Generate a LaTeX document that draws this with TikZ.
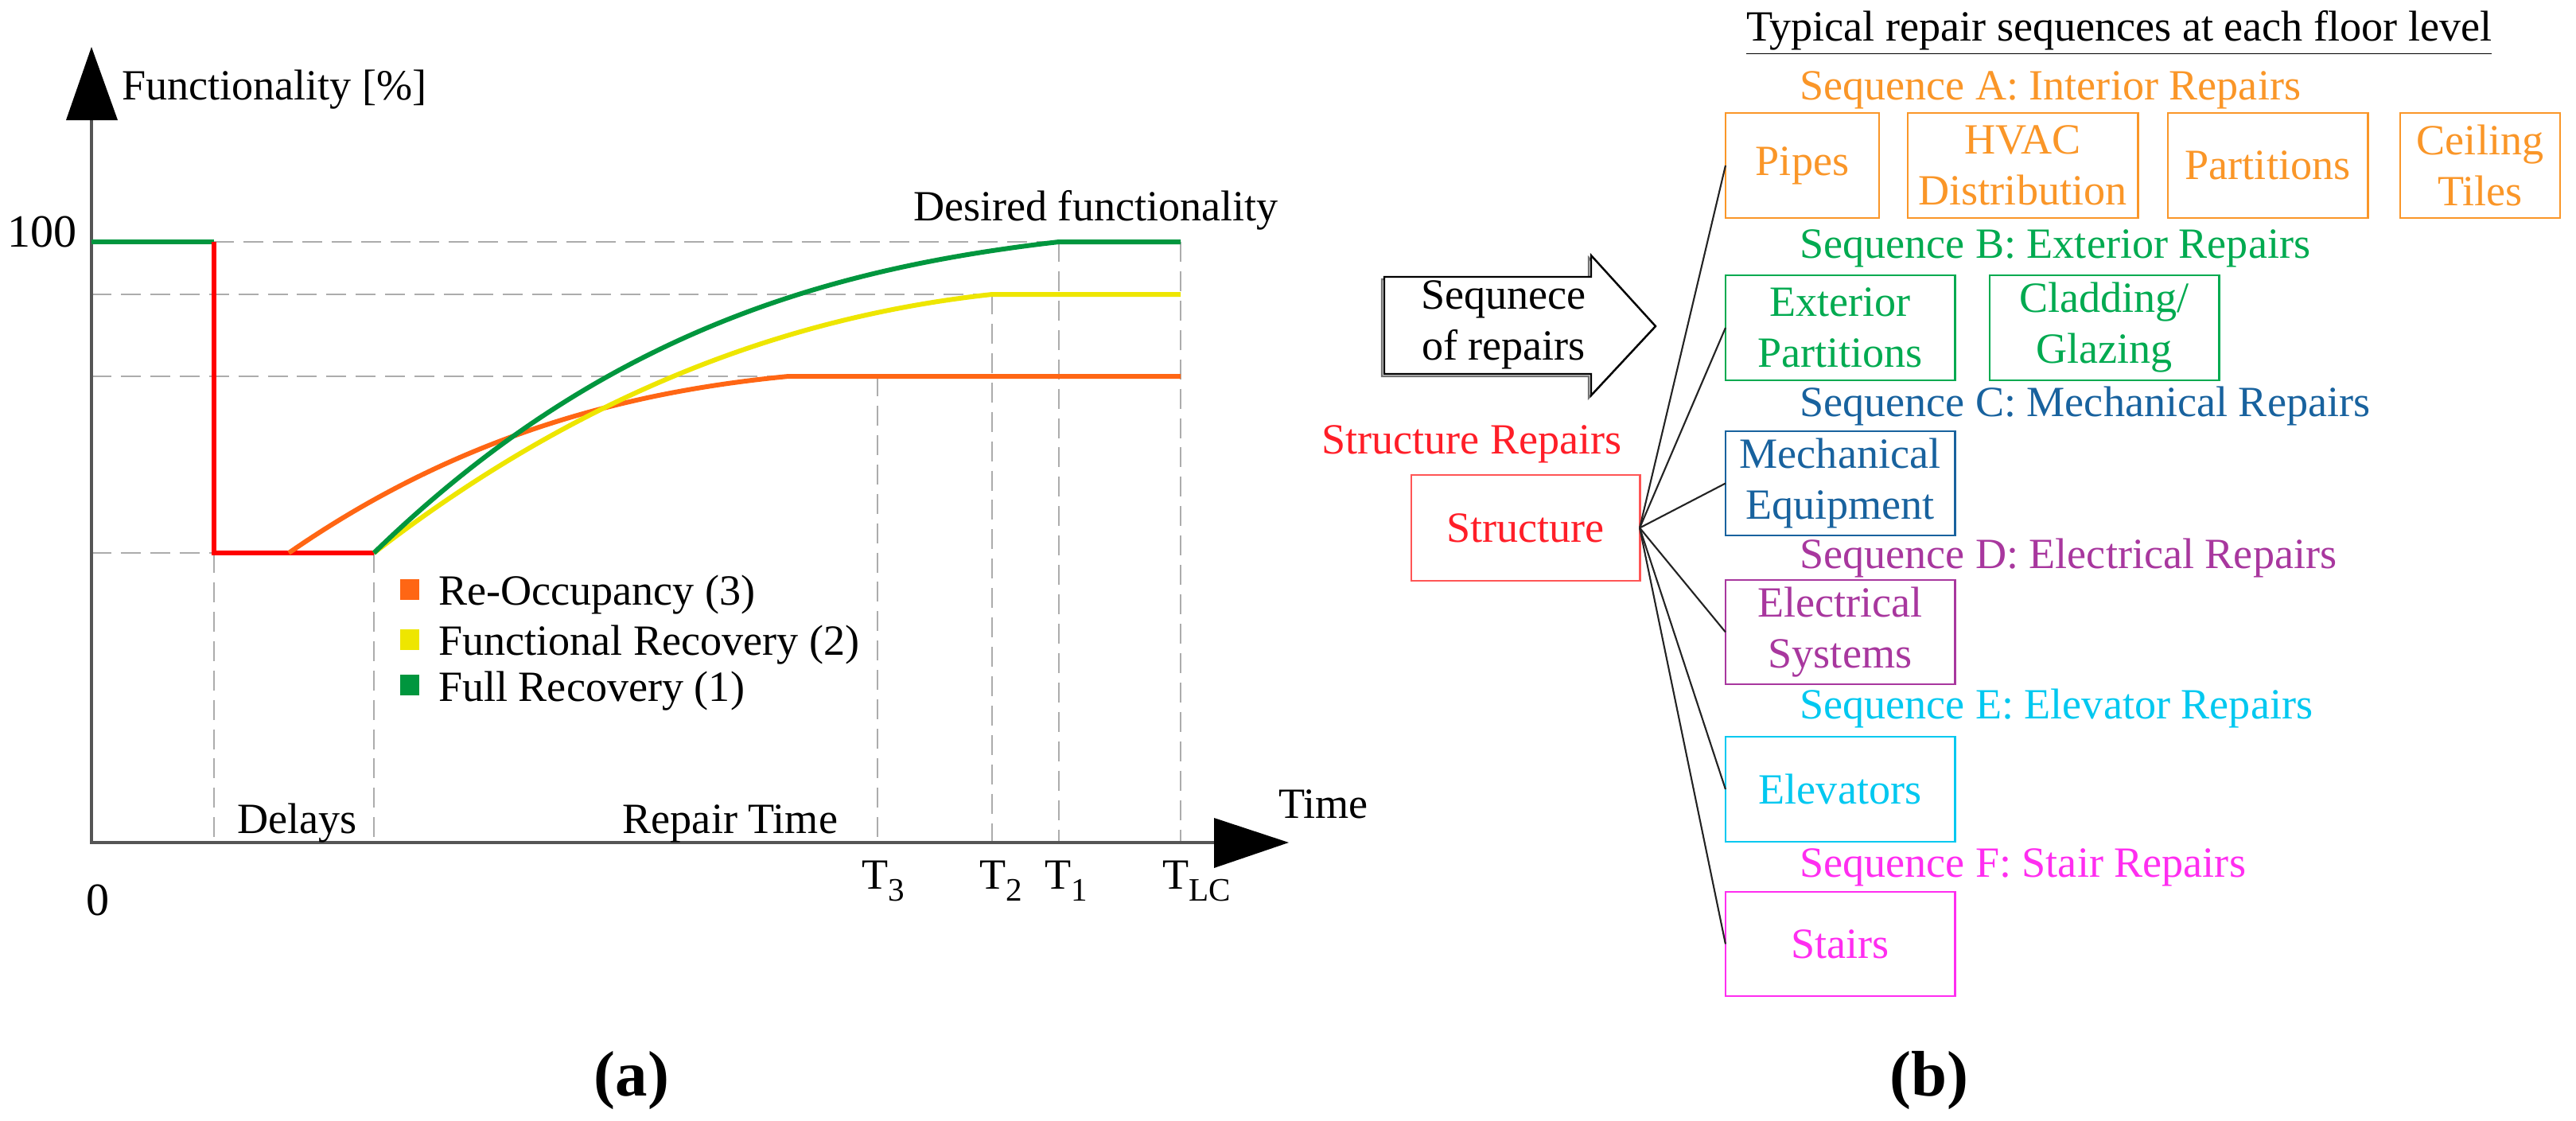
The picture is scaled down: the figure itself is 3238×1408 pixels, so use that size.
\documentclass[tikz,border=0pt]{standalone}
\usepackage{fontspec}
\setmainfont{Liberation Serif}
\newcommand\fsmain{\fontsize{15.4}{18.2}\selectfont}
\newcommand\fsbig{\fontsize{16.5}{19}\selectfont}
\newcommand\fslab{\fontsize{23}{26}\selectfont\bfseries}
\newcommand\tsub[1]{\raisebox{-4.3pt}{\fontsize{11.7}{12}\selectfont #1}}
\definecolor{dashgray}{RGB}{172,172,172}
\definecolor{axisgray}{RGB}{85,85,85}
\definecolor{lnorange}{RGB}{255,102,20}
\definecolor{lnyellow}{RGB}{238,230,0}
\definecolor{lngreen}{RGB}{0,150,62}
\definecolor{lnred}{RGB}{255,0,0}
\definecolor{seqA}{RGB}{250,150,40}
\definecolor{seqB}{RGB}{0,170,80}
\definecolor{seqC}{RGB}{24,98,158}
\definecolor{seqD}{RGB}{168,55,158}
\definecolor{seqE}{RGB}{0,200,240}
\definecolor{seqF}{RGB}{255,45,240}
\definecolor{strtext}{RGB}{255,30,40}
\definecolor{strbox}{RGB}{255,85,85}
\definecolor{connc}{RGB}{35,35,35}
\begin{document}
\begin{tikzpicture}[x=0.01cm,y=-0.01cm,
  txt/.style={inner sep=0pt,outer sep=0pt,font=\fsmain},
  dashln/.style={draw=dashgray,line width=0.6pt,dash pattern=on 7.1pt off 3.4pt},
  curve/.style={line width=1.7pt},
  axisln/.style={draw=axisgray,line width=1pt},
  seqbox/.style={draw=#1,text=#1,line width=0.8pt,inner sep=0pt,outer sep=0pt,align=center,font=\fsmain,minimum height=1.32cm},
  seqlabel/.style={txt,text=#1,anchor=base west},
  conn/.style={draw=connc,line width=0.6pt},
  legsq/.style={fill=#1,minimum width=0.24cm,minimum height=0.26cm,inner sep=0pt,outer sep=0pt}
]
\useasboundingbox[fill=white] (0,0) rectangle (3238,1408);

% ---------------- panel (a) ----------------
% dashed guide lines
\draw[dashln] (269,304) -- (1484,304);
\draw[dashln] (115,370) -- (1484,370);
\draw[dashln] (115,473) -- (1484,473);
\draw[dashln] (115,695) -- (269,695);
\draw[dashln] (269,695) -- (269,1059);
\draw[dashln] (470,695) -- (470,1059);
\draw[dashln] (1103,473) -- (1103,1059);
\draw[dashln] (1247,370) -- (1247,1059);
\draw[dashln] (1331,304) -- (1331,1059);
\draw[dashln] (1484,304) -- (1484,1059);

% axes
\coordinate (O) at (115,1059);
\coordinate (ybase) at (115,151);
\coordinate (xbase) at (1526,1059);
\draw[axisln] (ybase) -- (O) -- (xbase);
\fill[black] (83,151) -- (115,59) -- (148,151) -- cycle;
\fill[black] (1526,1028) -- (1620,1059) -- (1526,1091) -- cycle;

% recovery curves
\draw[curve,lngreen] (115,304) -- (269,304);
\draw[curve,lnred] (269,304) -- (269,695) -- (470,695);
\draw[curve,lnorange] (363,695) .. controls (572,550) and (782,493) .. (991,473) -- (1484,473);
\draw[curve,lnyellow] (470,695) .. controls (729,495) and (988,398) .. (1247,370) -- (1484,370);
\draw[curve,lngreen] (470,695) .. controls (757,416) and (1044,337) .. (1331,304) -- (1484,304);

% axis texts
\node[txt,anchor=base west] (ylab) at (153,125) {Functionality [\%]};
\node[inner sep=0pt,font=\fsbig,anchor=base east] (hundred) at (97,310) {100};
\node[inner sep=0pt,font=\fsbig,anchor=base west] (zero) at (108,1150) {0};
\node[txt,anchor=base west] (desired) at (1148,277) {Desired functionality};
\node[txt,anchor=base west] (delays) at (298,1047) {Delays};
\node[txt,anchor=base east] (repair) at (1053,1047) {Repair Time};
\node[txt,anchor=base west] (time) at (1607,1028) {Time};
\node[txt,anchor=base west] (t3) at (1083,1117) {T\tsub{3}};
\node[txt,anchor=base west] (t2) at (1231,1117) {T\tsub{2}};
\node[txt,anchor=base west] (t1) at (1313,1117) {T\tsub{1}};
\node[txt,anchor=base west] (tlc) at (1461,1117) {T\tsub{LC}};

% legend
\node[legsq=lnorange] (sq1) at (515,741) {};
\node[legsq=lnyellow] (sq2) at (515,804) {};
\node[legsq=lngreen] (sq3) at (515,861) {};
\node[txt,anchor=base west] (leg1) at (551,760) {Re-Occupancy (3)};
\node[txt,anchor=base west] (leg2) at (551,823) {Functional Recovery (2)};
\node[txt,anchor=base west] (leg3) at (551,881) {Full Recovery (1)};

\node[inner sep=0pt,font=\fslab,anchor=base] (capa) at (794,1377) {(a)};

% ---------------- panel (b) ----------------
\node[txt,anchor=base west] (title) at (2195,51) {\underline{Typical repair sequences at each floor level}};

% outline arrow
\draw[black!55,line width=0.7pt,shift={(-3,3)}] (1740,348) -- (2000,348) -- (2000,321) -- (2081,410) -- (2000,497) -- (2000,470) -- (1740,470) -- cycle;
\draw[black,fill=white,line width=0.7pt] (1740,348) -- (2000,348) -- (2000,321) -- (2081,410) -- (2000,497) -- (2000,470) -- (1740,470) -- cycle;
\node[txt,align=center] (seqrep) at (1890,408) {Sequnece\\of repairs};

\node[txt,text=strtext,anchor=base west] (strlab) at (1661,570) {Structure Repairs};
\node[seqbox=strbox,text=strtext,minimum width=2.87cm,minimum height=1.33cm] (struct) at (1917.5,663.5) {Structure};

\node[seqlabel=seqA] (labA) at (2262,125) {Sequence A: Interior Repairs};
\node[seqbox=seqA,minimum width=1.93cm] (pipes) at (2265.5,208) {Pipes};
\node[seqbox=seqA,minimum width=2.89cm] (hvac) at (2542.5,208) {HVAC\\Distribution};
\node[seqbox=seqA,minimum width=2.51cm] (parts) at (2850.5,208) {Partitions};
\node[seqbox=seqA,minimum width=2.01cm] (ceil) at (3117.5,208) {Ceiling\\Tiles};

\node[seqlabel=seqB] (labB) at (2262,324) {Sequence B: Exterior Repairs};
\node[seqbox=seqB,minimum width=2.88cm] (extp) at (2313,412) {Exterior\\Partitions};
\node[seqbox=seqB,minimum width=2.88cm] (clad) at (2645,412) {Cladding/\\Glazing};

\node[seqlabel=seqC] (labC) at (2262,523) {Sequence C: Mechanical Repairs};
\node[seqbox=seqC,minimum width=2.88cm,minimum height=1.31cm] (mech) at (2313,607.5) {Mechanical\\Equipment};

\node[seqlabel=seqD] (labD) at (2262,714) {Sequence D: Electrical Repairs};
\node[seqbox=seqD,minimum width=2.88cm,minimum height=1.31cm] (elec) at (2313,794.5) {Electrical\\Systems};

\node[seqlabel=seqE] (labE) at (2262,903) {Sequence E: Elevator Repairs};
\node[seqbox=seqE,minimum width=2.88cm] (elev) at (2313,992) {Elevators};

\node[seqlabel=seqF] (labF) at (2262,1102) {Sequence F: Stair Repairs};
\node[seqbox=seqF,minimum width=2.88cm,minimum height=1.31cm] (stairs) at (2313,1186.5) {Stairs};

% connectors
\draw[conn] (struct.east) -- (pipes.west);
\draw[conn] (struct.east) -- (extp.west);
\draw[conn] (struct.east) -- (mech.west);
\draw[conn] (struct.east) -- (elec.west);
\draw[conn] (struct.east) -- (elev.west);
\draw[conn] (struct.east) -- (stairs.west);

\node[inner sep=0pt,font=\fslab,anchor=base] (capb) at (2425,1377) {(b)};
\end{tikzpicture}
\end{document}
